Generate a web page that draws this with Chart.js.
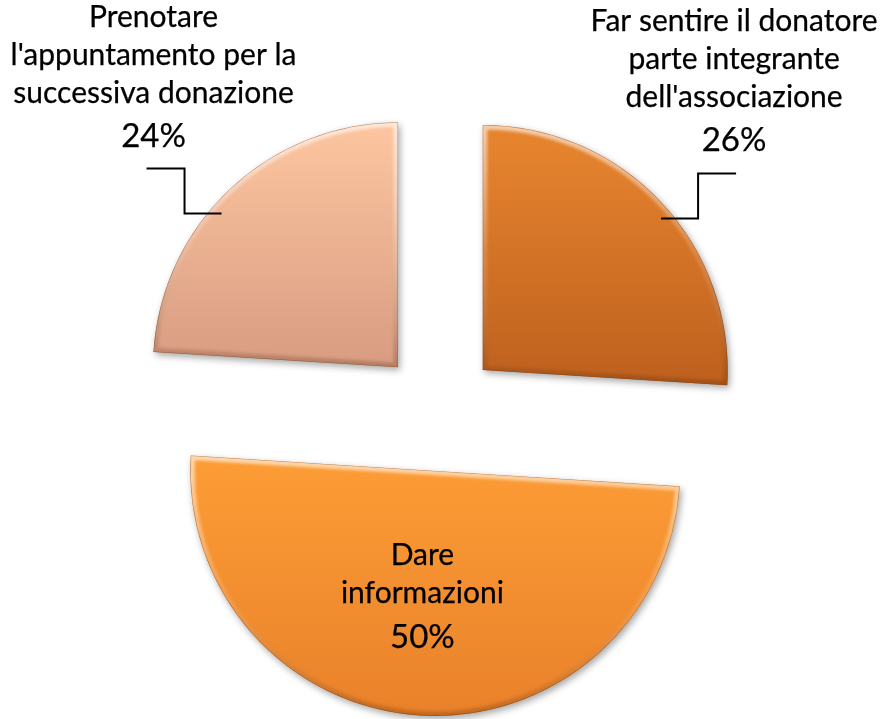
<!DOCTYPE html>
<html>
<head>
<meta charset="utf-8">
<script src="https://cdn.jsdelivr.net/npm/chart.js@4.4.1/dist/chart.umd.min.js"></script>
<style>
  html, body { margin: 0; padding: 0; background: #ffffff; }
  #wrap { width: 883px; height: 719px; }
</style>
</head>
<body>
<div id="wrap"><canvas id="pie" width="883" height="719"></canvas></div>
<script>
// ===== DATA =====
const categoryLines = [
  ['Far sentire il donatore', 'parte integrante', "dell'associazione"],
  ['Dare', 'informazioni'],
  ['Prenotare', "l'appuntamento per la", 'successiva donazione']
];
const shares = [26, 50, 24];
const percentLabels = ['26%', '50%', '24%'];

// ===== STYLE =====
const topColors = ['#E8862F', '#FD9D36', '#FDC6A0'];
const bottomColors = ['#BE601E', '#E9812A', '#D89C82'];
const labelFont = '"Lato", "Open Sans", sans-serif';
const explodeDistance = 60;

/**
 * Vertical extent of a slice (for its top-to-bottom shading)
 */
function sliceYRange(arc) {
  let min = arc.y, max = arc.y;
  const steps = 60;
  for (let s = 0; s <= steps; s++) {
    const a = arc.startAngle + (arc.endAngle - arc.startAngle) * s / steps;
    const y = arc.y + Math.sin(a) * arc.outerRadius;
    min = Math.min(min, y);
    max = Math.max(max, y);
  }
  return [min, max];
}

function explodeShift(arc) {
  const mid = (arc.startAngle + arc.endAngle) / 2;
  return { dx: Math.cos(mid) * explodeDistance, dy: Math.sin(mid) * explodeDistance, mid };
}

// Text drawn with a hairline outline so it reads as heavy as the original
function drawText(ctx, text, x, y) {
  ctx.fillText(text, x, y);
  ctx.strokeText(text, x, y);
}

// Draws each slice pulled out from the centre, with shading, bevel and shadow
const explodePlugin = {
  id: 'explodedSlices',
  beforeDatasetDraw(chart, args) {
    const ctx = chart.ctx;
    args.meta.data.forEach((arc, i) => {
      const { dx, dy } = explodeShift(arc);
      const [y0, y1] = sliceYRange(arc);

      // body with drop shadow
      ctx.save();
      ctx.translate(dx, dy);
      const grad = ctx.createLinearGradient(0, y0, 0, y1);
      grad.addColorStop(0, topColors[i]);
      grad.addColorStop(1, bottomColors[i]);
      ctx.shadowColor = 'rgba(0, 0, 0, 0.35)';
      ctx.shadowBlur = 7;
      ctx.shadowOffsetX = 2;
      ctx.shadowOffsetY = 3;
      const saved = arc.options;
      arc.options = Object.assign({}, saved, { backgroundColor: grad, borderWidth: 0, offset: 0 });
      arc.draw(ctx);
      arc.options = saved;
      ctx.restore();

      // soft bevel along the edges
      ctx.save();
      ctx.translate(dx, dy);
      ctx.beginPath();
      ctx.moveTo(arc.x, arc.y);
      ctx.arc(arc.x, arc.y, arc.outerRadius, arc.startAngle, arc.endAngle);
      ctx.closePath();
      ctx.clip();
      const bevel = ctx.createLinearGradient(0, y0, 0, y1);
      bevel.addColorStop(0, 'rgba(255, 255, 255, 0.6)');
      bevel.addColorStop(0.5, 'rgba(255, 255, 255, 0.15)');
      bevel.addColorStop(1, 'rgba(80, 30, 0, 0.25)');
      ctx.filter = 'blur(1.5px)';
      ctx.lineWidth = 9;
      ctx.lineJoin = 'round';
      ctx.strokeStyle = bevel;
      ctx.stroke();
      ctx.filter = 'none';
      ctx.lineWidth = 1;
      ctx.strokeStyle = 'rgba(110, 50, 10, 0.45)';
      ctx.stroke();
      ctx.restore();
    });
    return false;
  }
};

// Category + percentage labels, with elbow leader lines for the outer ones
const labelPlugin = {
  id: 'sliceLabels',
  afterDatasetsDraw(chart) {
    const ctx = chart.ctx;
    const meta = chart.getDatasetMeta(0);
    const angleShift = [0.05, 0, -0.1];

    ctx.save();
    ctx.fillStyle = '#000000';
    ctx.textAlign = 'center';
    ctx.textBaseline = 'alphabetic';

    meta.data.forEach((arc, i) => {
      const { dx, dy, mid } = explodeShift(arc);
      const cx = arc.x + dx;
      const cy = arc.y + dy;
      const R = arc.outerRadius;

      ctx.strokeStyle = '#000000';
      ctx.lineWidth = 0.25;

      if (shares[i] >= 50) {
        // inside label
        const px = cx + Math.cos(mid) * R * 0.51 - 5;
        const py = cy + Math.sin(mid) * R * 0.51;
        ctx.font = `30px ${labelFont}`;
        const lines = categoryLines[i];
        lines.forEach((line, k) => {
          drawText(ctx, line, px, py - 31 + (k - (lines.length - 2)) * 38);
        });
        ctx.font = `33px ${labelFont}`;
        drawText(ctx, percentLabels[i], px, py + 52);
        return;
      }

      const a = mid + angleShift[i];
      const ax = cx + Math.cos(a) * R * 0.955;
      const ay = cy + Math.sin(a) * R * 0.955;
      const side = Math.cos(mid) >= 0 ? 1 : -1;
      const kneeX = ax + side * 37;
      const endX = kneeX + side * 38;
      const endY = ay - 45;

      ctx.beginPath();
      ctx.moveTo(ax, ay);
      ctx.lineTo(kneeX, ay);
      ctx.lineTo(kneeX, endY);
      ctx.lineTo(endX, endY);
      ctx.lineWidth = 2;
      ctx.stroke();
      ctx.lineWidth = 0.25;

      const tx = side > 0 ? endX - 2 : endX + 7;
      const pctBase = endY - 22;
      ctx.font = `33px ${labelFont}`;
      drawText(ctx, percentLabels[i], tx, pctBase);
      ctx.font = `30px ${labelFont}`;
      const lines = categoryLines[i];
      lines.forEach((line, k) => {
        drawText(ctx, line, tx, pctBase - 44 - (lines.length - 1 - k) * 38);
      });
    });
    ctx.restore();
  }
};

const chart = new Chart(document.getElementById('pie'), {
  type: 'pie',
  data: {
    labels: categoryLines.map(l => l.join(' ')),
    datasets: [{
      data: shares,
      backgroundColor: topColors,
      borderWidth: 0,
      radius: 245
    }]
  },
  options: {
    responsive: false,
    animation: false,
    rotation: 0,
    radius: 245,
    layout: { padding: { left: 0, right: 5, top: 103, bottom: 0 } },
    plugins: {
      legend: { display: false },
      tooltip: { enabled: false }
    }
  },
  plugins: [explodePlugin, labelPlugin]
});
</script>
</body>
</html>
